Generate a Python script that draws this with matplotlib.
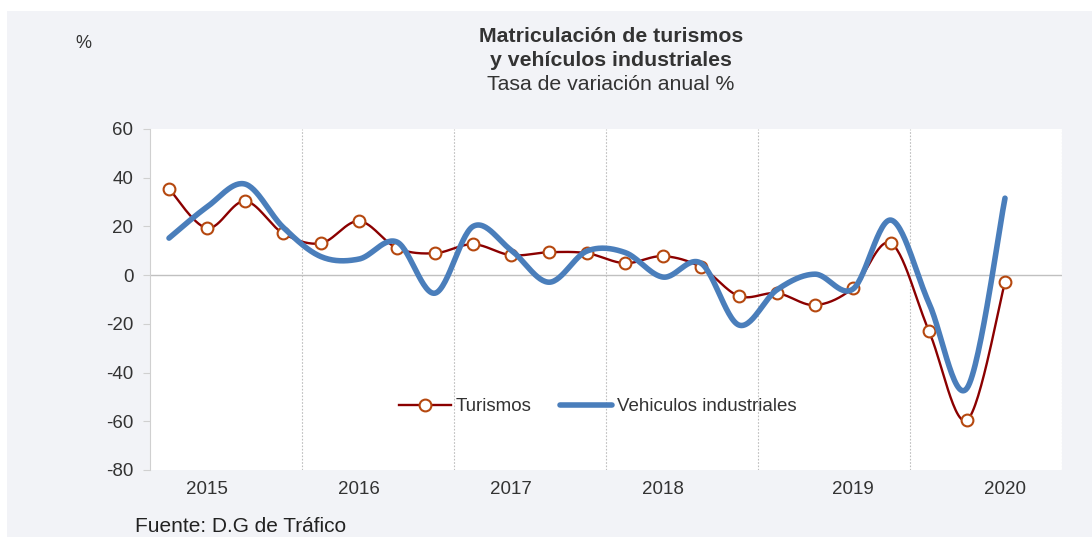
import numpy as np
import matplotlib.pyplot as plt
from matplotlib.patches import Rectangle
from matplotlib.lines import Line2D

plt.rcParams['font.family'] = ['Liberation Sans', 'DejaVu Sans']
plt.rcParams['axes.unicode_minus'] = False

# trimestres 2015T1 .. 2020T3
turismos = [35.5, 19.3, 30.4, 17.2, 13.1, 22.2, 11.1, 9.0,
            12.7, 8.2, 9.4, 9.0, 4.9, 7.8, 3.3, -8.6,
            -7.4, -12.3, -5.3, 13.1, -23.0, -59.5, -2.9]
industriales = [15.2, 28.0, 37.4, 19.7, 7.6, 6.6, 13.6, -7.4,
                20.0, 10.3, -2.9, 9.9, 9.3, -0.8, 4.9, -20.5,
                -6.0, 0.4, -5.7, 22.6, -11.5, -46.4, 31.6]
years = ['2015', '2016', '2017', '2018', '2019', '2020']
year_label_pos = [1, 5, 9, 13, 18, 22]


def smooth(y, n=30):
    # curva suavizada tipo Excel (Bezier con tangentes Catmull-Rom)
    x = np.arange(len(y), dtype=float)
    y = np.asarray(y, dtype=float)
    xs, ys = [], []
    t = np.linspace(0, 1, n, endpoint=False)
    for i in range(len(y) - 1):
        i0, i3 = max(i - 1, 0), min(i + 2, len(y) - 1)
        p0 = np.array([x[i], y[i]])
        p3 = np.array([x[i + 1], y[i + 1]])
        c1 = p0 + (np.array([x[i + 1], y[i + 1]]) - np.array([x[i0], y[i0]])) / 6
        c2 = p3 - (np.array([x[i3], y[i3]]) - np.array([x[i], y[i]])) / 6
        b = ((1 - t) ** 3)[:, None] * p0 + (3 * (1 - t) ** 2 * t)[:, None] * c1 \
            + (3 * (1 - t) * t ** 2)[:, None] * c2 + (t ** 3)[:, None] * p3
        xs.append(b[:, 0]); ys.append(b[:, 1])
    xs.append([x[-1]]); ys.append([y[-1]])
    return np.concatenate(xs), np.concatenate(ys)


fig = plt.figure(figsize=(10.92, 5.37), dpi=100, facecolor='white')
fig.patches.append(Rectangle((7 / 1092, 0), 1, 1 - 11 / 537, transform=fig.transFigure,
                             facecolor='#f2f3f7', edgecolor='none', zorder=-10))
ax = fig.add_axes([150 / 1092, 1 - 470 / 537, 912 / 1092, 341 / 537])
ax.set_facecolor('white')

red = '#8b0000'
blue = '#4a7ebb'
mk = '#b5480f'

xt, yt = smooth(turismos)
ax.plot(xt, yt, color=red, lw=1.7, zorder=3)
ax.plot(np.arange(len(turismos)), turismos, 'o', ms=8.5, mfc='white', mec=mk, mew=1.5, zorder=4)
xi, yi = smooth(industriales)
ax.plot(xi, yi, color=blue, lw=4, solid_capstyle='round', zorder=5)

ax.set_xlim(-0.5, 23.5)
ax.set_ylim(-80, 60)
ax.set_yticks(np.arange(-80, 61, 20))
ax.set_xticks(year_label_pos)
ax.set_xticklabels(years)
for xv in [3.5, 7.5, 11.5, 15.5, 19.5, 23.5]:
    ax.axvline(xv, color='#bfbfbf', lw=0.8, ls=(0, (1.5, 1.5)), zorder=1)
ax.axhline(0, color='#c0c0c0', lw=1, zorder=1)

for s in ['top', 'right', 'bottom']:
    ax.spines[s].set_visible(False)
ax.spines['left'].set_color('#d0d0d0')
ax.tick_params(axis='y', colors='#d0d0d0', labelcolor='#333333', labelsize=13.5, length=5, pad=7)
ax.tick_params(axis='x', length=0, labelcolor='#333333', labelsize=13.5, pad=8)

handles = [Line2D([], [], color=red, lw=1.7, marker='o', ms=8.5, mfc='white', mec=mk, mew=1.5),
           Line2D([], [], color=blue, lw=4, solid_capstyle='round')]
ax.legend(handles, ['Turismos', 'Vehiculos industriales'], loc='center',
          bbox_to_anchor=(0.491, 0.185), ncol=2, frameon=False, fontsize=13.5,
          handlelength=2.8, handletextpad=0.25, columnspacing=1.5, labelcolor='#333333')

fig.text(611 / 1092, 1 - 37 / 537, 'Matriculación de turismos', ha='center', va='center',
         fontsize=15.3, fontweight='bold', color='#333333')
fig.text(611 / 1092, 1 - 61 / 537, 'y vehículos industriales', ha='center', va='center',
         fontsize=15.3, fontweight='bold', color='#333333')
fig.text(611 / 1092, 1 - 85 / 537, 'Tasa de variación anual %', ha='center', va='center',
         fontsize=15.3, color='#333333')
fig.text(83 / 1092, 1 - 43 / 537, '%', ha='center', va='center', fontsize=13, color='#333333')
fig.text(135 / 1092, 1 - 526 / 537, 'Fuente: D.G de Tráfico', ha='left', va='center',
         fontsize=15, color='#222222')

fig.savefig('out.png', dpi=100, facecolor=fig.get_facecolor())
